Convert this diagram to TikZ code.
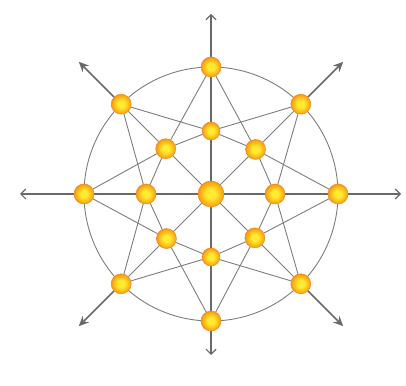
\documentclass[tikz,border=0pt]{standalone}
\usetikzlibrary{arrows.meta}
\definecolor{lnc}{RGB}{125,125,125}
\definecolor{axc}{RGB}{105,105,105}
\definecolor{orbin}{RGB}{255,236,50}
\definecolor{orbmid}{RGB}{250,170,15}
\definecolor{orbout}{RGB}{235,115,10}
\pgfdeclareradialshading{orbshade}{\pgfpoint{0bp}{0bp}}{color(0bp)=(orbin); color(8bp)=(orbin); color(22bp)=(orbmid); color(30bp)=(orbout); color(50bp)=(orbout)}
\tikzset{
  orb/.style={circle, minimum size=20pt, inner sep=0pt, shading=orbshade, draw=orbout!85!white, line width=0.5pt},
  smallorb/.style={orb, minimum size=18pt},
  bigorb/.style={orb, minimum size=26pt},
  link/.style={draw=lnc, line width=0.9pt},
  axisline/.style={draw=axc, line width=1.1pt, {Straight Barb[length=5pt,width=10pt]}-{Straight Barb[length=5pt,width=10pt]}},
  diagarrow/.style={draw=axc, line width=1.6pt, -{Stealth[length=10pt,width=9pt]}}
}
\begin{document}
\begin{tikzpicture}[x=1pt,y=1pt]
\useasboundingbox (0,0) rectangle (406,385);
\begin{scope}[shift={(211,191)}]
  % free ends of arrows
  \coordinate (tN) at (0,180);
  \coordinate (tS) at (0,-161);
  \coordinate (tW) at (-191,0);
  \coordinate (tE) at (190,0);
  \coordinate (tNE) at (45:187);
  \coordinate (tNW) at (135:187);
  \coordinate (tSW) at (-135:187);
  \coordinate (tSE) at (-45:187);
  % outer circle and axes
  \draw[link] (0,0) circle (127);
  \draw[axisline] (tN) -- (tS);
  \draw[axisline] (tW) -- (tE);
  % nodes
  \node[bigorb] (c) at (0,0) {};
  \foreach \k/\a in {1/90,2/45,3/0,4/-45,5/-90,6/-135,7/180,8/135}{
    \node[orb] (o\k) at (\a:127) {};
  }
  \node[smallorb] (i1) at (90:63) {};
  \node[orb] (i2) at (45:63) {};
  \node[orb] (i3) at (0:64) {};
  \node[orb] (i4) at (-45:62) {};
  \node[smallorb] (i5) at (-90:63) {};
  \node[orb] (i6) at (-135:63) {};
  \node[orb] (i7) at (180:65) {};
  \node[orb] (i8) at (135:64) {};
  % connectors
  \foreach \k in {1,...,8}{
    \pgfmathtruncatemacro{\nx}{mod(\k,8)+1}
    \draw[link] (o\k) -- (i\nx);
    \draw[link] (o\nx) -- (i\k);
    \draw[link] (i\k) -- (i\nx);
  }
  \foreach \k in {2,4,6,8}{
    \draw[link] (o\k) -- (i\k);
    \draw[link] (i\k) -- (c);
  }
  % diagonal arrows
  \draw[diagarrow] (o2) -- (tNE);
  \draw[diagarrow] (o8) -- (tNW);
  \draw[diagarrow] (o6) -- (tSW);
  \draw[diagarrow] (o4) -- (tSE);
\end{scope}
\end{tikzpicture}
\end{document}
